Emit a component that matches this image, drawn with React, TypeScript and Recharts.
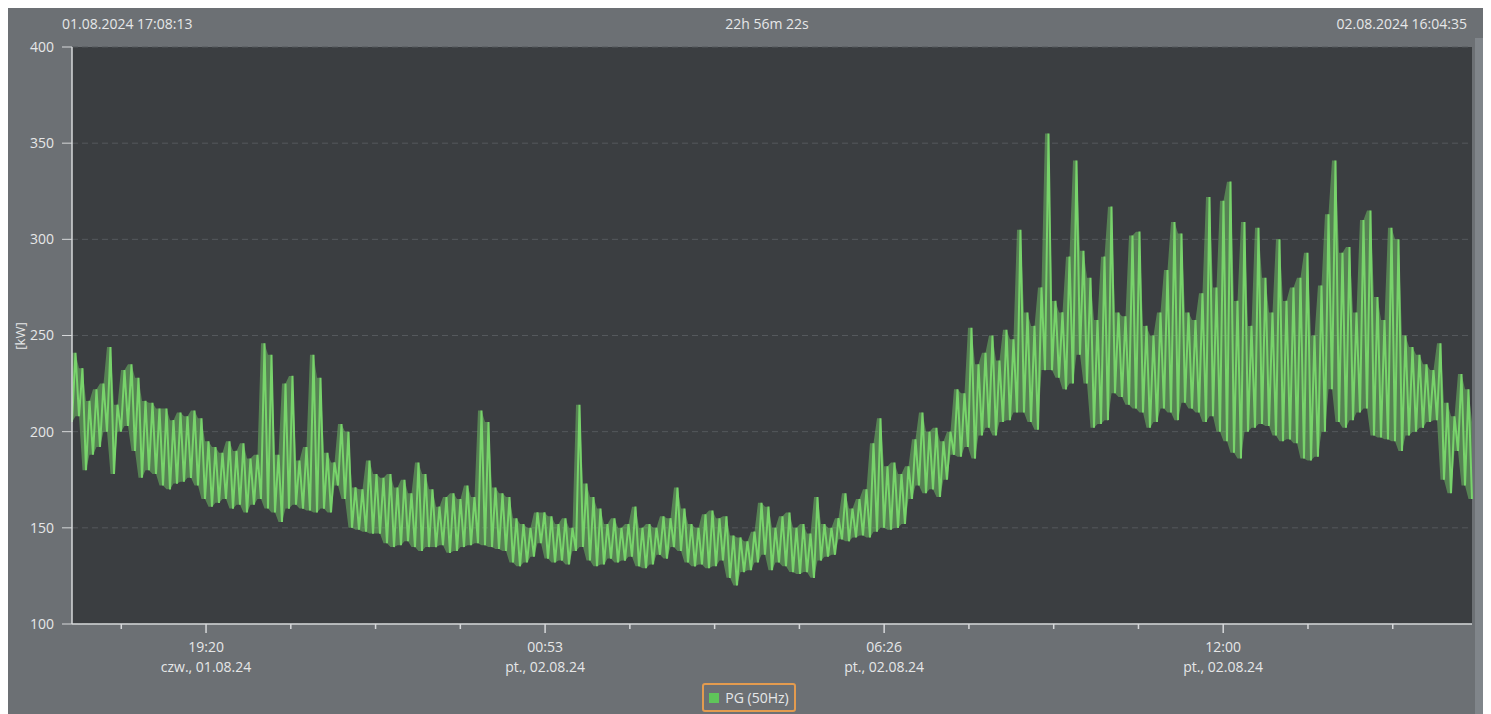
import React from "react";
import { ComposedChart, Line, Area, XAxis, YAxis, CartesianGrid } from "recharts";

const START_LABEL = "01.08.2024 17:08:13";
const END_LABEL = "02.08.2024 16:04:35";
const SPAN_LABEL = "22h 56m 22s";
const SPAN_MIN = 1376.37; // 22h 56m 22s in minutes
const SERIES_NAME = "PG (50Hz)";

const Y_TICKS = [100, 150, 200, 250, 300, 350, 400];

// minutes since 17:08:13, one tick every 1h23m20s
const X_TICKS = [
  48.45, 131.78, 215.12, 298.45, 381.78, 465.12, 548.45, 631.78, 715.12, 798.45,
  881.78, 965.12, 1048.45, 1131.78, 1215.12, 1298.45,
];
const X_TIME_LABELS = ["", "19:20", "", "", "", "00:53", "", "", "", "06:26", "", "", "", "12:00", "", ""];
const X_DATE_LABELS = ["", "czw., 01.08.24", "", "", "", "pt., 02.08.24", "", "", "", "pt., 02.08.24", "", "", "", "pt., 02.08.24", "", ""];

// envelope of the PG trace, read per ~6.9 min slot [kW]
const PG_HIGH = [
  241, 233, 216, 222, 225, 244, 214, 232, 235, 228,
  216, 215, 212, 212, 206, 210, 208, 211, 207, 195,
  192, 189, 195, 190, 194, 186, 188, 246, 240, 188,
  225, 229, 185, 192, 240, 228, 189, 184, 204, 200,
  171, 170, 185, 178, 176, 178, 171, 175, 168, 184,
  178, 170, 161, 166, 168, 165, 172, 166, 211, 205,
  171, 168, 166, 155, 152, 150, 158, 158, 156, 152,
  155, 150, 214, 173, 166, 160, 152, 155, 150, 152,
  161, 150, 152, 150, 156, 155, 171, 160, 152, 150,
  157, 159, 155, 156, 146, 145, 143, 148, 163, 161,
  150, 156, 158, 150, 152, 147, 166, 152, 150, 155,
  168, 160, 165, 170, 194, 207, 182, 184, 178, 182,
  196, 210, 200, 202, 195, 200, 222, 220, 254, 235,
  241, 250, 237, 253, 248, 305, 262, 255, 275, 355,
  268, 262, 291, 341, 294, 280, 258, 291, 317, 262,
  260, 302, 304, 255, 250, 262, 284, 309, 303, 262,
  258, 272, 322, 275, 320, 330, 268, 309, 255, 306,
  280, 262, 300, 268, 275, 280, 293, 250, 276, 313,
  341, 293, 296, 262, 310, 315, 270, 258, 306, 300,
  250, 244, 240, 235, 232, 246, 215, 208, 230, 222,
  205,
];
const PG_LOW = [
  205, 208, 180, 188, 192, 200, 178, 200, 203, 190,
  176, 180, 178, 172, 170, 173, 174, 176, 172, 165,
  161, 163, 165, 160, 162, 158, 162, 165, 160, 158,
  153, 160, 162, 160, 159, 158, 160, 158, 172, 165,
  150, 149, 148, 147, 147, 142, 140, 141, 143, 140,
  138, 140, 140, 141, 137, 138, 140, 141, 142, 141,
  140, 139, 138, 132, 130, 132, 135, 142, 134, 132,
  133, 131, 138, 140, 133, 130, 131, 134, 132, 133,
  135, 130, 129, 131, 136, 134, 140, 138, 132, 130,
  131, 129, 130, 133, 124, 120, 127, 128, 132, 136,
  128, 132, 130, 127, 126, 127, 124, 133, 135, 136,
  144, 143, 145, 146, 145, 148, 150, 149, 150, 152,
  165, 172, 168, 170, 166, 175, 188, 187, 192, 186,
  198, 202, 198, 205, 206, 210, 210, 205, 201, 232,
  232, 228, 222, 225, 240, 225, 202, 204, 206, 220,
  218, 214, 212, 210, 202, 205, 212, 210, 206, 215,
  212, 210, 205, 208, 200, 195, 189, 186, 200, 202,
  204, 203, 198, 195, 196, 194, 186, 185, 187, 200,
  222, 205, 202, 206, 210, 212, 198, 197, 196, 195,
  190, 198, 200, 202, 205, 206, 175, 168, 190, 172,
  165,
];

const STEP = SPAN_MIN / (PG_LOW.length - 1);

// zig-zag between the slot's low and high, plus the slot's band for the fill
const data: { t: number; pg: number; band: [number, number] }[] = [];
PG_LOW.forEach((lo, i) => {
  data.push({ t: i * STEP, pg: lo, band: [lo, PG_HIGH[i]] });
  if (i < PG_LOW.length - 1) {
    data.push({ t: i * STEP + STEP / 2, pg: PG_HIGH[i], band: [PG_LOW[i + 1], PG_HIGH[i]] });
  }
});

const TEXT = "#e6e7e8";
const FONT = "'Open Sans', 'Noto Sans', sans-serif";
const GREEN = "#78d46b";

function TimeTick(props: any) {
  const { x, y, payload } = props;
  const idx = X_TICKS.indexOf(payload.value);
  const major = idx >= 0 && X_TIME_LABELS[idx] !== "";
  return (
    <g>
      <line x1={x} x2={x} y1={y} y2={y + (major ? 9 : 5)} stroke="#d6d8da" strokeWidth={1.5} />
      {major && (
        <text x={x} y={y + 28} textAnchor="middle" fill={TEXT} fontSize={14} fontFamily={FONT}>
          {X_TIME_LABELS[idx]}
        </text>
      )}
      {major && (
        <text x={x} y={y + 48} textAnchor="middle" fill={TEXT} fontSize={14} fontFamily={FONT}>
          {X_DATE_LABELS[idx]}
        </text>
      )}
    </g>
  );
}

export default function App() {
  return (
    <div
      style={{
        position: "relative",
        width: 1477,
        height: 706,
        background: "#6c7074",
        fontFamily: FONT,
        color: TEXT,
        fontSize: 14,
      }}
    >
      <div style={{ position: "absolute", left: 54, top: 6 }}>{START_LABEL}</div>
      <div style={{ position: "absolute", left: 759, top: 6, transform: "translateX(-50%)" }}>{SPAN_LABEL}</div>
      <div style={{ position: "absolute", right: 18, top: 6 }}>{END_LABEL}</div>
      <div
        style={{
          position: "absolute",
          left: 12,
          top: 328,
          fontSize: 13,
          transform: "translate(-50%, -50%) rotate(-90deg)",
        }}
      >
        [kW]
      </div>
      <div style={{ position: "absolute", left: 1467, top: 30, width: 10, height: 676, background: "#80858a" }} />

      <ComposedChart
        width={1477}
        height={706}
        data={data}
        margin={{ top: 39, right: 13, bottom: 30, left: 8 }}
        style={{ position: "absolute", left: 0, top: 0 }}
      >
        <CartesianGrid
          vertical={false}
          stroke="#55595d"
          strokeDasharray="6 4"
          fill="#3b3e41"
          fillOpacity={1}
        />
        <XAxis
          dataKey="t"
          type="number"
          domain={[0, SPAN_MIN]}
          ticks={X_TICKS}
          interval={0}
          tickSize={0}
          tickMargin={0}
          height={60}
          axisLine={{ stroke: "#d6d8da", strokeWidth: 1.5 }}
          tick={<TimeTick />}
        />
        <YAxis
          type="number"
          domain={[100, 400]}
          ticks={Y_TICKS}
          interval={0}
          width={56}
          tickSize={10}
          tickMargin={8}
          axisLine={{ stroke: "#d6d8da", strokeWidth: 1.5 }}
          tickLine={{ stroke: "#d6d8da" }}
          tick={{ fill: TEXT, fontSize: 14, fontFamily: FONT }}
        />
        <Area
          type="linear"
          dataKey="band"
          stroke="none"
          fill={GREEN}
          fillOpacity={0.45}
          isAnimationActive={false}
        />
        <Line
          type="linear"
          dataKey="pg"
          name={SERIES_NAME}
          stroke={GREEN}
          strokeWidth={2}
          dot={false}
          isAnimationActive={false}
        />
      </ComposedChart>

      <div
        style={{
          position: "absolute",
          left: 694,
          top: 675,
          width: 94,
          height: 29,
          boxSizing: "border-box",
          border: "2px solid #e39b4f",
          borderRadius: 3,
          display: "flex",
          alignItems: "center",
          justifyContent: "center",
          gap: 6,
        }}
      >
        <span style={{ width: 10, height: 10, background: "#5fc55a", display: "inline-block" }} />
        <span>{SERIES_NAME}</span>
      </div>
    </div>
  );
}
